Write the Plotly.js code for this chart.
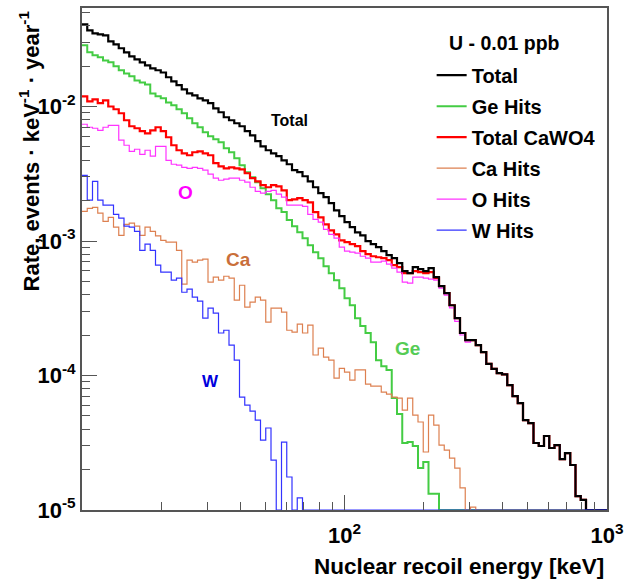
<!DOCTYPE html>
<html>
<head>
<meta charset="utf-8">
<script src="https://cdn.plot.ly/plotly-3.0.1.min.js"></script>
<style>html,body{margin:0;padding:0;background:#fff}#chart{width:635px;height:579px}</style>
</head>
<body>
<div id="chart"></div>
<script>
// Binning: 100 logarithmic bins from 10 keV to 1000 keV
const nBins = 100;
const logEmin = 1, logEmax = 3;

// Rates (events / keV / year), one value per bin, 0 = empty bin
const totalHits = [
 4.08e-2,3.68e-2,3.50e-2,3.44e-2,3.38e-2,3.05e-2,2.90e-2,2.71e-2,2.53e-2,2.36e-2,
 2.24e-2,2.13e-2,2.02e-2,1.92e-2,1.86e-2,1.79e-2,1.65e-2,1.54e-2,1.44e-2,1.34e-2,
 1.25e-2,1.21e-2,1.15e-2,1.11e-2,1.06e-2,9.70e-3,9.06e-3,8.32e-3,7.90e-3,7.51e-3,
 7.13e-3,6.55e-3,6.11e-3,5.52e-3,5.06e-3,4.73e-3,4.49e-3,4.27e-3,3.98e-3,3.72e-3,
 3.36e-3,3.25e-3,3.03e-3,2.78e-3,2.51e-3,2.27e-3,2.12e-3,1.91e-3,1.69e-3,1.53e-3,
 1.38e-3,1.27e-3,1.16e-3,1.10e-3,9.97e-4,9.47e-4,9.00e-4,8.40e-4,7.85e-4,7.45e-4,
 6.84e-4,5.97e-4,5.77e-4,6.39e-4,6.17e-4,5.97e-4,6.28e-4,5.38e-4,4.62e-4,4.10e-4,
 3.33e-4,2.67e-4,2.07e-4,1.83e-4,1.83e-4,1.68e-4,1.49e-4,1.22e-4,1.12e-4,1.04e-4,
 1.02e-4,8.49e-5,7.03e-5,6.24e-5,4.66e-5,4.43e-5,3.15e-5,2.99e-5,3.55e-5,2.89e-5,
 3.04e-5,2.39e-5,2.65e-5,2.16e-5,1.27e-5,1.19e-5,0,0,0,0
];
const geHits = [
 2.86e-2,2.53e-2,2.40e-2,2.32e-2,2.20e-2,2.13e-2,1.99e-2,1.86e-2,1.76e-2,1.68e-2,
 1.56e-2,1.51e-2,1.46e-2,1.25e-2,1.19e-2,1.15e-2,1.07e-2,1.02e-2,9.54e-3,8.91e-3,
 8.18e-3,7.51e-3,7.01e-3,6.43e-3,6.01e-3,5.71e-3,5.43e-3,4.89e-3,4.57e-3,4.13e-3,
 3.66e-3,3.25e-3,2.98e-3,2.74e-3,2.47e-3,2.23e-3,2.01e-3,1.75e-3,1.64e-3,1.43e-3,
 1.29e-3,1.16e-3,1.05e-3,9.30e-4,8.26e-4,7.45e-4,6.50e-4,5.77e-4,5.11e-4,4.46e-4,
 3.76e-4,3.33e-4,2.67e-4,2.33e-4,2.07e-4,1.77e-4,1.30e-4,1.17e-4,1.10e-4,6.80e-5,
 5.17e-5,3.15e-5,3.20e-5,2.99e-5,2.05e-5,2.27e-5,1.32e-5,1.32e-5,0,0,
 0,0,0,0,0,0,0,0,0,0, 0,0,0,0,0,0,0,0,0,0, 0,0,0,0,0,0,0,0,0,0
];
const cawo4Hits = [
 1.19e-2,1.09e-2,1.13e-2,1.06e-2,1.11e-2,1.00e-2,9.54e-3,8.91e-3,7.90e-3,7.13e-3,
 6.89e-3,6.55e-3,6.32e-3,6.64e-3,7.01e-3,6.55e-3,5.91e-3,5.15e-3,4.73e-3,4.49e-3,
 4.34e-3,4.57e-3,4.64e-3,4.49e-3,4.34e-3,3.79e-3,3.59e-3,3.47e-3,3.53e-3,3.47e-3,
 3.41e-3,3.19e-3,2.93e-3,2.78e-3,2.60e-3,2.51e-3,2.60e-3,2.55e-3,2.38e-3,2.01e-3,
 2.04e-3,2.08e-3,2.01e-3,1.94e-3,1.64e-3,1.50e-3,1.33e-3,1.20e-3,1.12e-3,1.01e-3,
 9.80e-4,9.47e-4,9.15e-4,8.40e-4,7.98e-4,7.70e-4,7.57e-4,7.45e-4,7.20e-4,6.62e-4,
 6.39e-4,5.77e-4,5.77e-4,5.97e-4,5.86e-4,5.77e-4,5.86e-4,5.29e-4,4.62e-4,4.10e-4,
 3.33e-4,2.67e-4,2.07e-4,1.83e-4,1.83e-4,1.68e-4,1.49e-4,1.22e-4,1.12e-4,1.04e-4,
 1.02e-4,8.49e-5,7.03e-5,6.24e-5,4.66e-5,4.43e-5,3.15e-5,2.99e-5,3.55e-5,2.89e-5,
 3.04e-5,2.39e-5,2.65e-5,2.16e-5,1.27e-5,1.19e-5,0,0,0,0
];
const caHits = [
 1.66e-3,1.75e-3,1.78e-3,1.61e-3,1.40e-3,1.50e-3,1.27e-3,1.10e-3,1.33e-3,1.36e-3,
 1.29e-3,1.10e-3,1.27e-3,1.18e-3,1.09e-3,1.01e-3,9.80e-4,9.80e-4,8.52e-4,4.78e-4,
 7.20e-4,6.96e-4,7.20e-4,7.33e-4,4.94e-4,5.38e-4,5.11e-4,5.47e-4,5.29e-4,3.63e-4,
 4.69e-4,3.22e-4,3.51e-4,3.82e-4,3.63e-4,2.49e-4,3.17e-4,3.17e-4,2.96e-4,2.17e-4,
 2.10e-4,2.41e-4,2.07e-4,2.37e-4,1.42e-4,1.60e-4,1.37e-4,1.30e-4,9.57e-5,1.13e-4,
 1.06e-4,9.25e-5,1.10e-4,1.10e-4,8.64e-5,8.35e-5,8.35e-5,7.53e-5,7.28e-5,6.91e-5,
 6.80e-5,5.53e-5,6.80e-5,5.08e-5,4.51e-5,2.70e-5,5.08e-5,4.28e-5,3.04e-5,2.79e-5,
 2.43e-5,2.05e-5,1.46e-5,0,1.05e-5,0,0,0,0,0,
 0,0,0,0,0,0,0,0,0,0, 0,0,0,0,0,0,0,0,0,0
];
const oHits = [
 7.38e-3,7.01e-3,6.89e-3,6.64e-3,7.01e-3,7.25e-3,7.25e-3,5.62e-3,5.15e-3,4.64e-3,
 4.81e-3,4.41e-3,4.73e-3,4.27e-3,5.06e-3,5.06e-3,3.98e-3,3.72e-3,3.66e-3,3.53e-3,
 3.47e-3,3.53e-3,3.47e-3,3.36e-3,3.14e-3,2.93e-3,2.83e-3,2.88e-3,2.93e-3,2.93e-3,
 2.83e-3,2.74e-3,2.51e-3,2.34e-3,2.27e-3,2.34e-3,2.38e-3,2.23e-3,2.12e-3,1.85e-3,
 1.85e-3,1.85e-3,1.81e-3,1.58e-3,1.45e-3,1.38e-3,1.22e-3,1.12e-3,1.05e-3,9.00e-4,
 8.40e-4,8.26e-4,8.12e-4,7.70e-4,7.45e-4,6.96e-4,6.96e-4,7.08e-4,6.72e-4,6.28e-4,
 5.86e-4,4.94e-4,4.86e-4,5.38e-4,5.38e-4,5.29e-4,5.21e-4,5.11e-4,4.46e-4,3.96e-4,
 3.18e-4,2.53e-4,2.00e-4,1.77e-4,1.83e-4,1.68e-4,1.49e-4,1.22e-4,1.12e-4,1.04e-4,
 1.02e-4,8.49e-5,7.03e-5,6.24e-5,4.66e-5,4.43e-5,3.15e-5,2.99e-5,3.55e-5,2.89e-5,
 3.04e-5,2.39e-5,2.65e-5,2.16e-5,1.27e-5,1.19e-5,0,0,0,0
];
const wHits = [
 3.08e-3,2.01e-3,2.78e-3,2.01e-3,1.85e-3,1.85e-3,1.58e-3,1.48e-3,1.29e-3,1.27e-3,
 1.18e-3,8.52e-4,9.47e-4,8.52e-4,6.62e-4,5.86e-4,5.86e-4,5.11e-4,5.29e-4,4.16e-4,
 4.38e-4,3.82e-4,3.57e-4,2.67e-4,3.17e-4,2.91e-4,2.07e-4,2.17e-4,1.68e-4,1.30e-4,
 6.91e-5,6.02e-5,5.44e-5,4.66e-5,3.31e-5,4.07e-5,2.35e-5,0,3.20e-5,1.76e-5,
 0,1.23e-5,0,0,0,0,0,0,0,0,
 0,0,0,0,0,0,0,0,0,0, 0,0,0,0,0,0,0,0,0,0, 0,0,0,0,0,0,0,0,0,0,
 0,0,0,0,0,0,0,0,0,0, 0,0,0,0,0,0,0,0,0,0
];

const legendHeader = 'U - 0.01 ppb';
const xLabel = 'Nuclear recoil energy [keV]';
const yLabel = 'Rate, events · keV<sup>-1</sup> · year<sup>-1</sup>';
const xTickVals = [100, 1000], xTickText = ['10<sup>2</sup>', '10<sup>3</sup>'];
const yTickVals = [1e-5, 1e-4, 1e-3, 1e-2], yTickText = ['10<sup>-5</sup>', '10<sup>-4</sup>', '10<sup>-3</sup>', '10<sup>-2</sup>'];

// ---------- drawing ----------
const yMin = 1e-5, yMax = 0.054;
const binEdges = Array.from({length: nBins + 1}, (_, i) => Math.pow(10, logEmin + (logEmax - logEmin) * i / nBins));
const FONT = 'Liberation Sans, Arial, Helvetica, sans-serif';

function stepTrace(vals, name, color, width, rank) {
  const y = vals.map(v => v > 0 ? v : yMin); // empty bins drawn on the floor, as ROOT does
  y.push(y[y.length - 1]);
  return {
    x: binEdges, y: y, type: 'scatter', mode: 'lines', name: name,
    line: {shape: 'hv', color: color, width: width},
    legendrank: rank, legendgroup: name, hoverinfo: 'skip'
  };
}

const cGe = '#44cc44', cCa = '#dd8050', cO = '#ff33ff', cW = '#3333ff';
const traces = [
  stepTrace(geHits, 'Ge Hits', cGe, 2, 2),
  stepTrace(caHits, 'Ca Hits', cCa, 1.2, 4),
  stepTrace(cawo4Hits, 'Total CaWO4', '#ff0000', 2.2, 3),
  stepTrace(oHits, 'O Hits', cO, 1.2, 5),
  stepTrace(totalHits, 'Total', '#000000', 2.2, 1),
  stepTrace(wHits, 'W Hits', cW, 1.2, 6)
];

const xMinor = [20,30,40,50,60,70,80,90,200,300,400,500,600,700,800,900];
const yMinor = [];
[1e-5,1e-4,1e-3,1e-2].forEach(d => { for (let k = 2; k <= 9; k++) { const v = k * d; if (v < yMax) yMinor.push(v); } });

const axisCommon = {
  type: 'log', showgrid: false, zeroline: false,
  showline: true, mirror: true, linecolor: '#555', linewidth: 2,
  ticks: 'inside', ticklen: 15, tickwidth: 1.2, tickcolor: '#555',
  tickmode: 'array',
  tickfont: {family: FONT, size: 22, color: '#000', weight: 'bold'},
  minor: {tickmode: 'array', ticks: 'inside', ticklen: 8, tickwidth: 1.2, tickcolor: '#555', showgrid: false}
};

function label(text, x, y, size, color) {
  return {text: text, xref: 'paper', yref: 'paper', x: x, y: y, xanchor: 'center', yanchor: 'middle',
          showarrow: false, font: {family: FONT, size: size, color: color, weight: 'bold'}};
}

const layout = {
  width: 635, height: 579,
  margin: {l: 82, r: 28, t: 8, b: 69},
  paper_bgcolor: '#fff', plot_bgcolor: '#fff',
  font: {family: FONT, size: 20, color: '#000'},
  showlegend: true,
  hovermode: false,
  xaxis: Object.assign({}, axisCommon, {
    range: [logEmin, logEmax],
    tickvals: xTickVals, ticktext: xTickText, ticklabelstandoff: 5,
    minor: Object.assign({}, axisCommon.minor, {tickvals: xMinor})
  }),
  yaxis: Object.assign({}, axisCommon, {
    range: [Math.log10(yMin), Math.log10(yMax)],
    tickvals: yTickVals, ticktext: yTickText,
    minor: Object.assign({}, axisCommon.minor, {tickvals: yMinor})
  }),
  legend: {
    x: 0.666, xanchor: 'left', y: 0.905, yanchor: 'top',
    bgcolor: 'rgba(0,0,0,0)', borderwidth: 0,
    font: {family: FONT, size: 20, color: '#000', weight: 'bold'},
    traceorder: 'grouped', tracegroupgap: 2, itemwidth: 30
  },
  annotations: [
    {text: yLabel, textangle: -90, xref: 'paper', yref: 'paper', x: -0.101, y: 1, xanchor: 'center', yanchor: 'top',
     showarrow: false, font: {family: FONT, size: 22, color: '#000', weight: 'bold'}},
    {text: xLabel, xref: 'paper', yref: 'paper', x: 1, xshift: -1, y: -0.1135, xanchor: 'right', yanchor: 'middle',
     showarrow: false, font: {family: FONT, size: 22.5, color: '#000', weight: 'bold'}},
    {text: legendHeader, xref: 'paper', yref: 'paper', x: 0.695, y: 0.930, xanchor: 'left', yanchor: 'middle',
     showarrow: false, font: {family: FONT, size: 19.5, color: '#000', weight: 'bold'}},
    label('Total', 0.396, 0.775, 16, '#000'),
    label('O', 0.197, 0.632, 19, '#ff00ff'),
    label('Ca', 0.299, 0.5, 19, '#c96f3b'),
    label('Ge', 0.62, 0.321, 19, '#55cc55'),
    label('W', 0.244, 0.256, 17, '#0000dd')
  ]
};

Plotly.newPlot('chart', traces, layout, {displayModeBar: false});
</script>
</body>
</html>
